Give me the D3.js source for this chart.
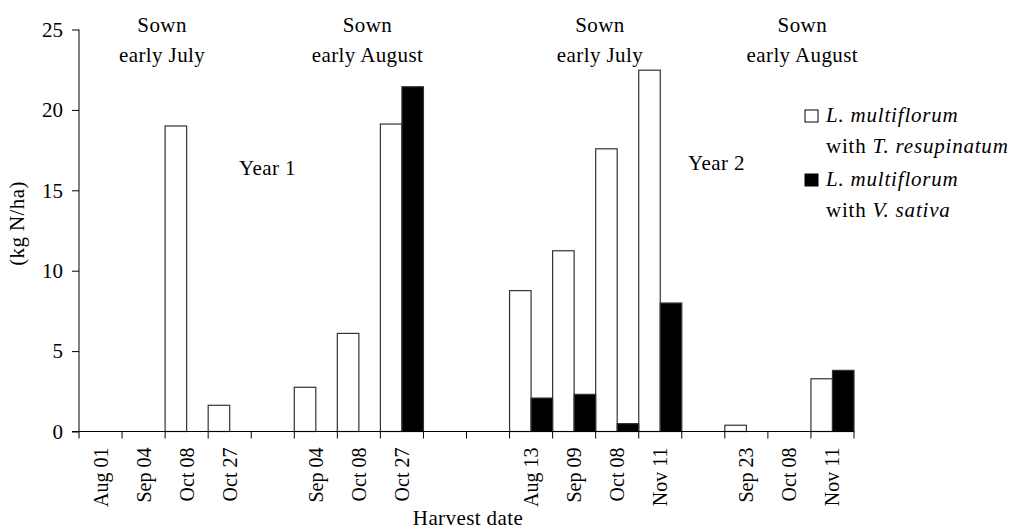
<!DOCTYPE html>
<html>
<head>
<meta charset="utf-8">
<script src="https://cdn.jsdelivr.net/npm/d3@7"></script>
<style>
    body { margin: 0; background: #fff; }
    svg text { font-family: "Liberation Serif", "Times New Roman", serif; fill: #000; }
</style>
</head>
<body>
<div id="chart"></div>
<script>
// Harvest dates, blank slots separate the four sowing groups
var categories = ["Aug 01", "Sep 04", "Oct 08", "Oct 27", "",
    "Sep 04", "Oct 08", "Oct 27", "", "",
    "Aug 13", "Sep 09", "Oct 08", "Nov 11", "",
    "Sep 23", "Oct 08", "Nov 11"];
var resupinatum = [0, 0, 19.0, 1.63, null, 2.75, 6.1, 19.12, null, null, 8.76, 11.24, 17.58, 22.47, null, 0.39, 0, 3.28];
var sativa = [0, 0, 0, 0, null, 0, 0, 21.44, null, null, 2.08, 2.31, 0.49, 7.99, null, 0, 0, 3.8];
var yTicks = [0, 5, 10, 15, 20, 25];
var seriesNames = ["with T. resupinatum", "with V. sativa"];

var margin = { top: 29.5, left: 79 },
    width = 775,
    height = 402,
    svgWidth = 1021,
    svgHeight = 530;

var svg = d3.select("#chart").append("svg")
    .attr("width", svgWidth)
    .attr("height", svgHeight);

var g = svg.append("g")
    .attr("transform", "translate(" + margin.left + "," + margin.top + ")");

var slots = d3.range(categories.length);

var xScale = d3.scaleBand()
    .domain(slots)
    .range([0, width])
    .padding(0);

var yScale = d3.scaleLinear()
    .domain([0, 25])
    .range([height, 0]);

var half = xScale.bandwidth() / 2;

function drawSeries(values, fill, offset) {
    g.selectAll(null)
        .data(slots.filter(function (i) { return values[i] > 0; }))
        .enter().append("rect")
        .attr("x", function (i) { return xScale(i) + offset; })
        .attr("y", function (i) { return yScale(values[i]); })
        .attr("width", half)
        .attr("height", function (i) { return height - yScale(values[i]); })
        .attr("fill", fill)
        .attr("stroke", "#333")
        .attr("stroke-width", 1.2);
}

drawSeries(resupinatum, "#fff", 0);
drawSeries(sativa, "#000", half);

// y axis
var yAxis = g.append("g")
    .call(d3.axisLeft(yScale).tickValues(yTicks).tickSize(7).tickPadding(9));
yAxis.selectAll("text").style("font-size", "21px");
yAxis.select(".domain").attr("d", "M0," + height + "V0");

// x axis, ticks sit on band edges like the original
var xAxis = g.append("g")
    .attr("transform", "translate(0," + height + ")");
xAxis.append("line")
    .attr("x1", -7).attr("x2", width)
    .attr("stroke", "#000");
xAxis.selectAll(".edge")
    .data(d3.range(categories.length + 1))
    .enter().append("line")
    .attr("class", "edge")
    .attr("x1", function (i) { return i * xScale.step(); })
    .attr("x2", function (i) { return i * xScale.step(); })
    .attr("y2", 7)
    .attr("stroke", "#000");
xAxis.selectAll(".lbl")
    .data(slots.filter(function (i) { return categories[i] !== ""; }))
    .enter().append("text")
    .attr("class", "lbl")
    .attr("transform", function (i) {
        return "translate(" + (xScale(i) + half) + ",16) rotate(-90)";
    })
    .attr("dy", "0.35em")
    .attr("text-anchor", "end")
    .style("font-size", "20px")
    .text(function (i) { return categories[i]; });

// axis titles
svg.append("text")
    .attr("transform", "translate(24," + (margin.top + height / 2 - 7) + ") rotate(-90)")
    .attr("text-anchor", "middle")
    .style("font-size", "21px")
    .style("letter-spacing", "0.4px")
    .text("(kg N/ha)");

svg.append("text")
    .attr("x", 468).attr("y", 525)
    .attr("text-anchor", "middle")
    .style("font-size", "21px")
    .style("letter-spacing", "0.4px")
    .text("Harvest date");

// sowing group headers, placed in slot units
var headers = [
    { slot: 1.93, lines: ["Sown", "early July"] },
    { slot: 6.7, lines: ["Sown", "early August"] },
    { slot: 12.1, lines: ["Sown", "early July"] },
    { slot: 16.8, lines: ["Sown", "early August"] }
];
headers.forEach(function (h) {
    var t = g.append("text")
        .attr("text-anchor", "middle")
        .style("font-size", "21px")
        .style("letter-spacing", "0.4px");
    h.lines.forEach(function (line, k) {
        t.append("tspan")
            .attr("x", h.slot * xScale.step())
            .attr("y", 2.5 + k * 30)
            .text(line);
    });
});

g.append("text").attr("x", 160).attr("y", 145.5)
    .style("font-size", "21px").style("letter-spacing", "0.4px").text("Year 1");
g.append("text").attr("x", 609).attr("y", 140.5)
    .style("font-size", "21px").style("letter-spacing", "0.4px").text("Year 2");

// legend
var legend = svg.append("g").attr("transform", "translate(805,110)");
[["#fff", 0], ["#000", 1]].forEach(function (item) {
    var row = legend.append("g").attr("transform", "translate(0," + item[1] * 64 + ")");
    row.append("rect")
        .attr("width", 13).attr("height", 12)
        .attr("fill", item[0])
        .attr("stroke", "#000");
    var l1 = row.append("text").attr("x", 21).attr("y", 12)
        .style("font-size", "21px").style("letter-spacing", "0.8px");
    l1.append("tspan").style("font-style", "italic").text("L. multiflorum");
    var parts = seriesNames[item[1]].split(" ");
    var l2 = row.append("text").attr("x", 21).attr("y", 43)
        .style("font-size", "21px").style("letter-spacing", "0.8px");
    l2.append("tspan").text(parts[0] + " ");
    l2.append("tspan").style("font-style", "italic").text(parts.slice(1).join(" "));
});
</script>
</body>
</html>
